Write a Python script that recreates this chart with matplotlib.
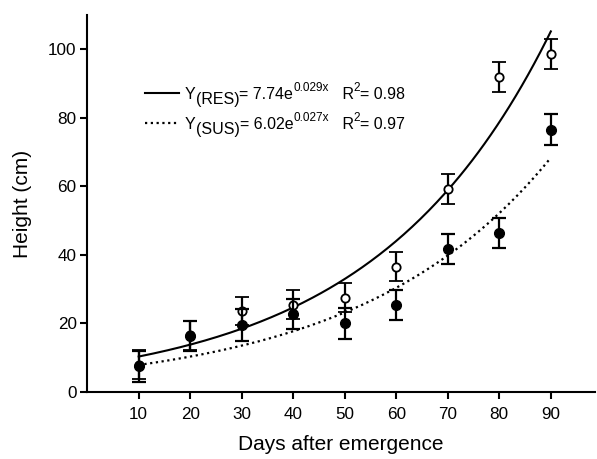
import numpy as np
import matplotlib
matplotlib.use("Agg")
import matplotlib.pyplot as plt
from matplotlib.lines import Line2D

plt.rcParams['font.family'] = ['Liberation Sans', 'DejaVu Sans']

# Days after emergence
days = [10, 20, 30, 40, 50, 60, 70, 80, 90]

# Resistant (open circles) - mean height and error
res_mean = [8.0, 16.5, 23.6, 25.5, 27.5, 36.6, 59.2, 92.0, 98.6]
res_err = [4.3, 4.2, 4.0, 4.3, 4.2, 4.3, 4.3, 4.3, 4.4]

# Susceptible (filled circles)
sus_mean = [7.5, 16.3, 19.5, 22.8, 20.0, 25.4, 41.7, 46.5, 76.6]
sus_err = [4.6, 4.4, 4.6, 4.4, 4.5, 4.5, 4.4, 4.4, 4.4]

# Exponential fits given in the legend: y = a * exp(b * x)
res_fit = (7.74, 0.029)
sus_fit = (6.02, 0.027)
res_r2 = 0.98
sus_r2 = 0.97

fig = plt.figure(figsize=(5.97, 4.59), dpi=100)
ax = fig.add_axes([0.146, 0.146, 0.85, 0.821])

xs = np.linspace(days[0], days[-1], 200)
res_style = dict(color='black', lw=1.5)
sus_style = dict(color='black', lw=1.6, linestyle=(0, (1, 1.6)))
ax.plot(xs, res_fit[0] * np.exp(res_fit[1] * xs), **res_style)
ax.plot(xs, sus_fit[0] * np.exp(sus_fit[1] * xs), **sus_style)

ax.errorbar(days, res_mean, yerr=res_err, fmt='o', color='black', mfc='white',
            mec='black', mew=1.3, ms=6, elinewidth=1.6, capsize=5, capthick=1.6, zorder=3)
ax.errorbar(days, sus_mean, yerr=sus_err, fmt='o', color='black', mfc='black',
            ms=7, elinewidth=1.6, capsize=5, capthick=1.6, zorder=4)


def compose(y, pieces):
    # chain text pieces along one baseline (axes fraction)
    prev = None
    for txt, size, dy in pieces:
        if prev is None:
            prev = ax.annotate(txt, xy=(0.193, y), xycoords='axes fraction',
                               xytext=(0, dy), textcoords='offset points',
                               fontsize=size, va='baseline', ha='left')
        else:
            prev = ax.annotate(txt, xy=(1, y), xycoords=(prev, 'axes fraction'),
                               xytext=(0, dy), textcoords='offset points',
                               fontsize=size, va='baseline', ha='left')


fs, fss = 11.5, 8.5
compose(0.778, [("Y", fs, 0), ("(RES)", fs, -3.5), ("= %.2fe" % res_fit[0], fs, 0),
                ("%.3fx" % res_fit[1], fss, 5.5), ("   R", fs, 0), ("2", fss, 5.5),
                ("= %.2f" % res_r2, fs, 0)])
compose(0.698, [("Y", fs, 0), ("(SUS)", fs, -3.5), ("= %.2fe" % sus_fit[0], fs, 0),
                ("%.3fx" % sus_fit[1], fss, 5.5), ("   R", fs, 0), ("2", fss, 5.5),
                ("= %.2f" % sus_r2, fs, 0)])

# legend keys
ax.add_line(Line2D([0.114, 0.181], [0.793, 0.793], transform=ax.transAxes, **res_style))
ax.add_line(Line2D([0.114, 0.181], [0.714, 0.714], transform=ax.transAxes, **sus_style))

ax.set_xlim(0, 98.5)
ax.set_ylim(0, 110)
ax.set_xticks(days)
ax.set_yticks([0, 20, 40, 60, 80, 100])
ax.spines['top'].set_visible(False)
ax.spines['right'].set_visible(False)
for s in ['left', 'bottom']:
    ax.spines[s].set_linewidth(1.5)
ax.tick_params(direction='out', length=5, width=1.5, labelsize=12.3)
ax.tick_params(axis='x', pad=6)
ax.tick_params(axis='y', pad=2.5)
ax.set_xlabel('Days after emergence', fontsize=15, labelpad=9)
ax.set_ylabel('Height (cm)', fontsize=15, labelpad=12)

fig.savefig('out.png', dpi=100)
